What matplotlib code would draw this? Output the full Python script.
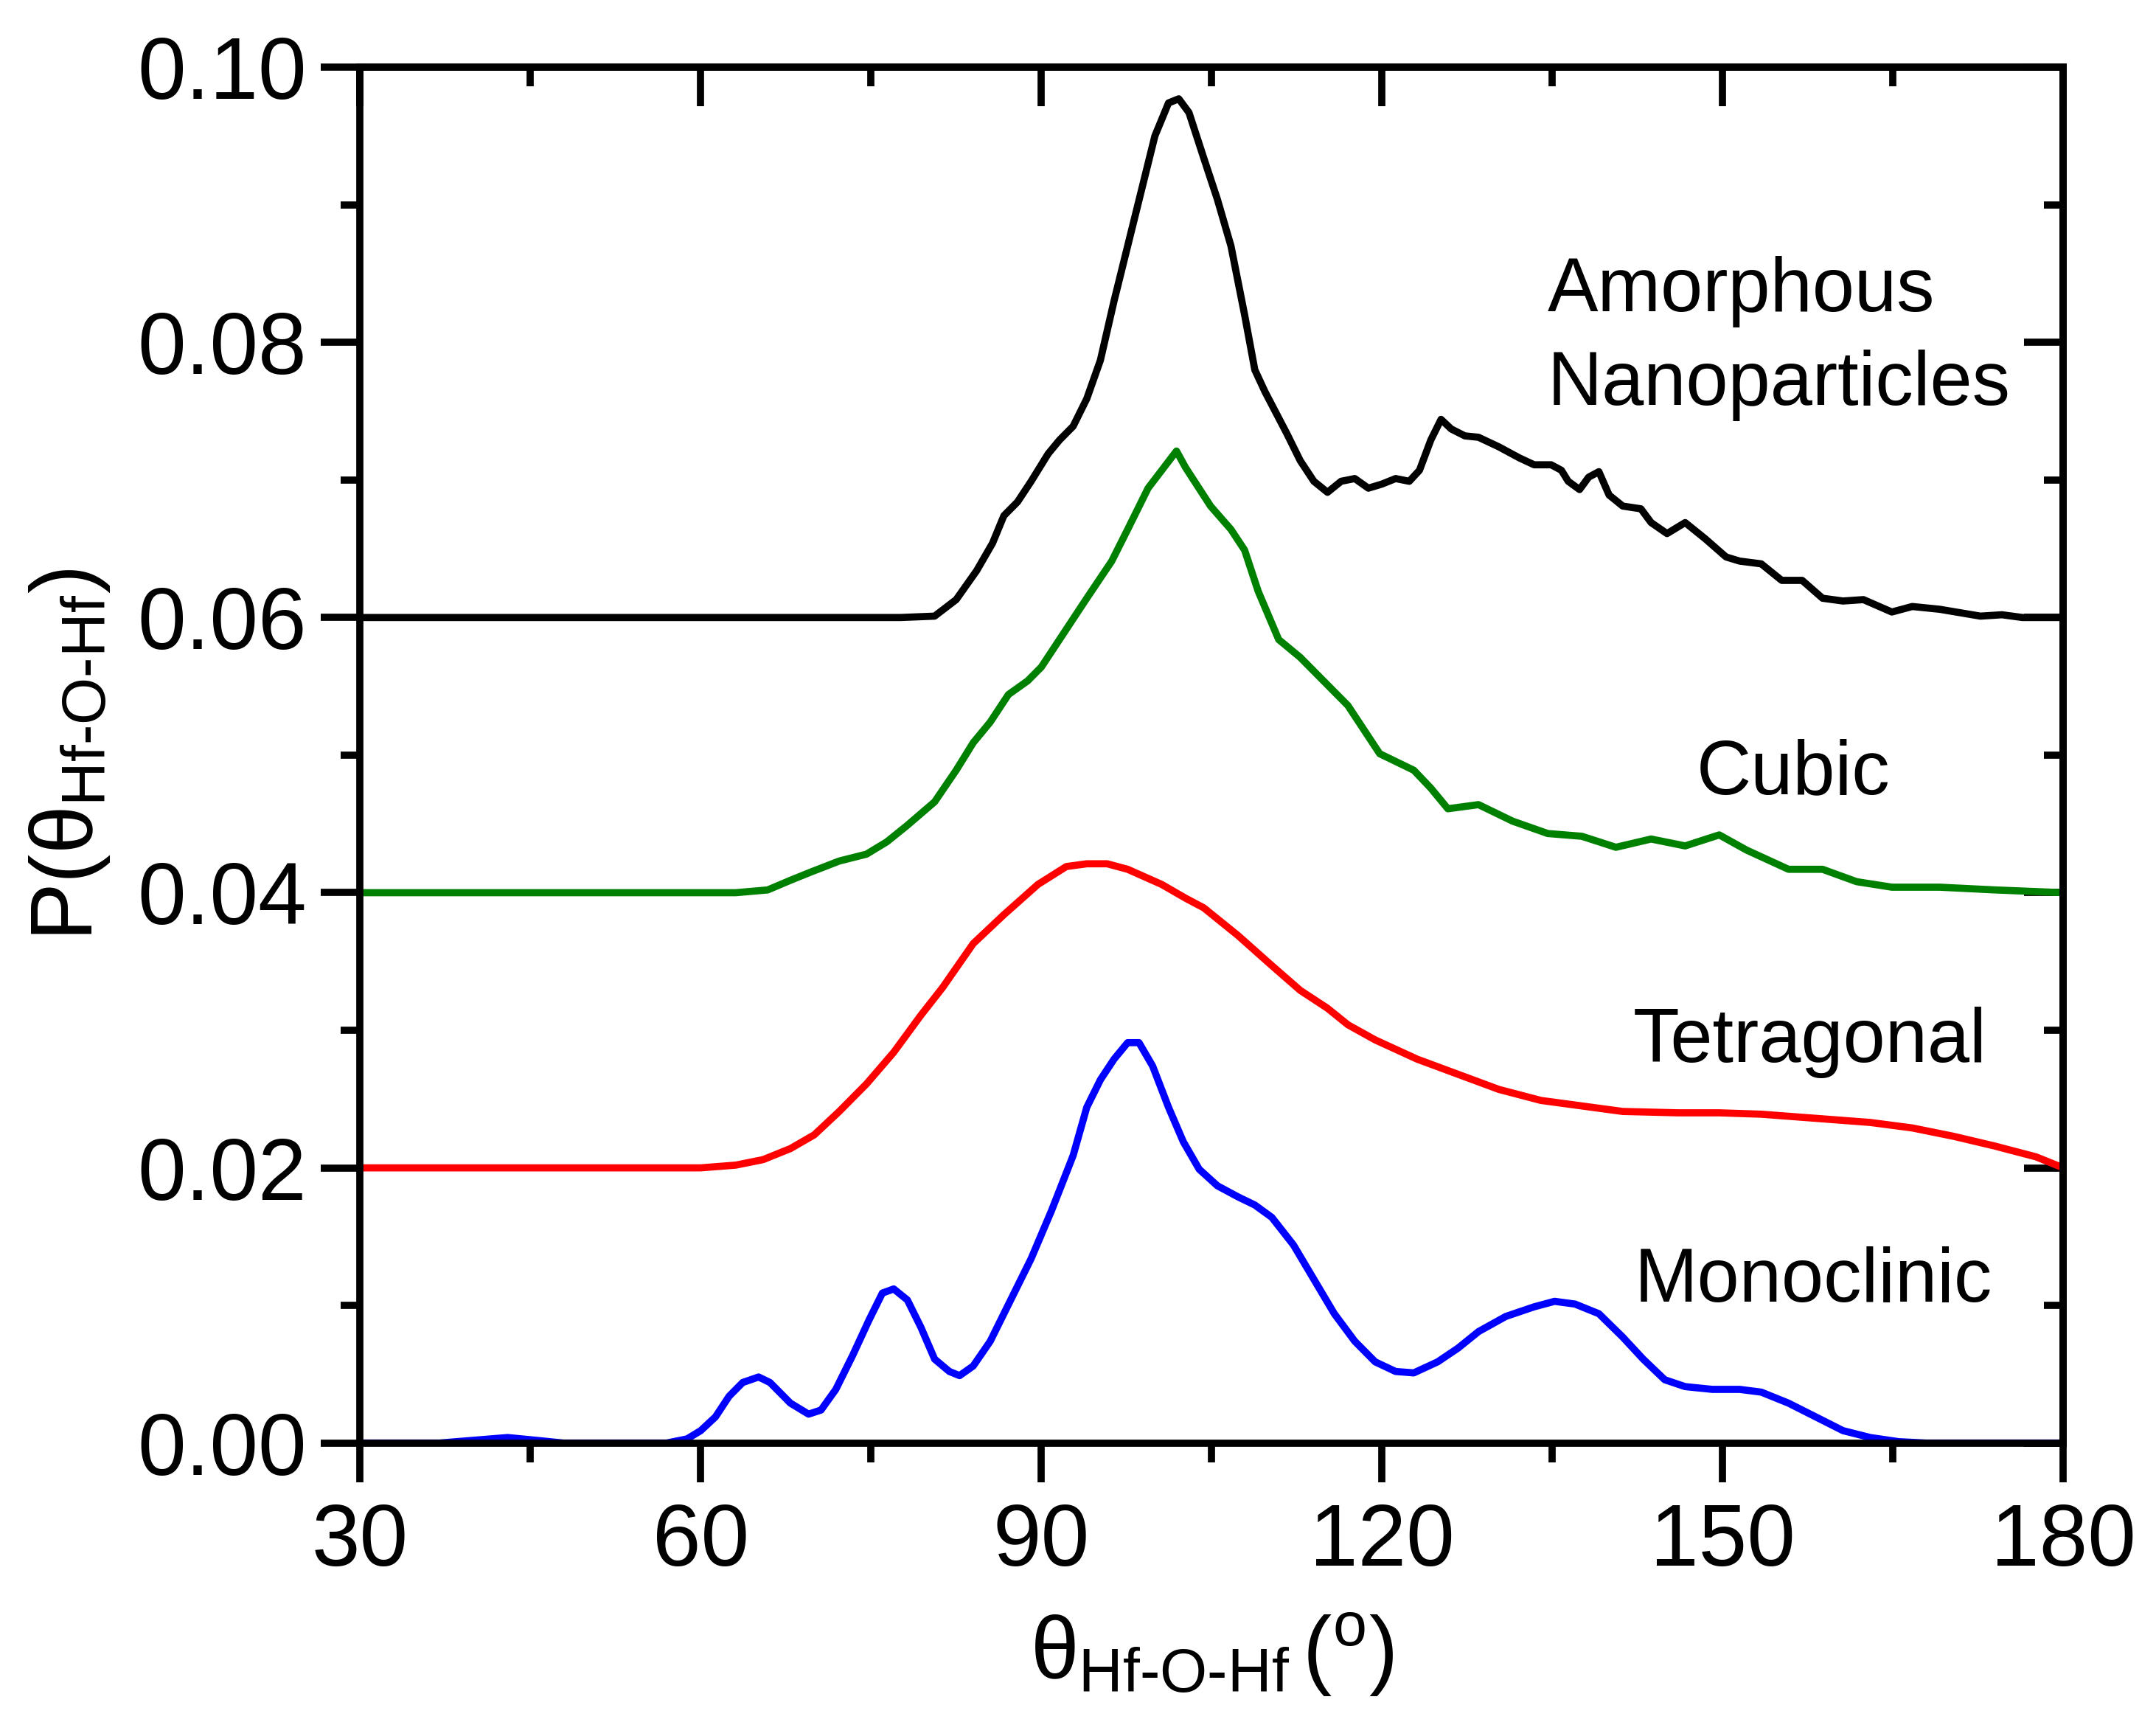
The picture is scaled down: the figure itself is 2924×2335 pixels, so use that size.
import matplotlib
matplotlib.use("Agg")
import matplotlib.pyplot as plt
from matplotlib.ticker import MultipleLocator, FormatStrFormatter

plt.rcParams['font.family'] = ['Liberation Sans', 'DejaVu Sans']
plt.rcParams['mathtext.fontset'] = 'custom'
plt.rcParams['mathtext.rm'] = 'Liberation Sans'
plt.rcParams['mathtext.it'] = 'Liberation Sans'

# Amorphous nanoparticles (offset +0.06)
amo_x = [30, 77.6, 80.6, 82.5, 84.3, 85.7, 86.7, 87.9, 89.1, 90.6, 91.6, 92.8, 94.0, 95.2, 96.4,
         97.6, 98.8, 100.0, 101.2, 102.1, 103.0, 104.3, 105.5, 106.7, 107.9, 108.8, 109.7, 111.6,
         112.8, 114.0, 115.2, 116.4, 117.6, 118.8, 120.0, 121.2, 122.4, 123.3, 124.3, 125.2, 126.1,
         127.3, 128.5, 130.3, 132.1, 133.4, 134.9, 135.8, 136.4, 137.4, 138.2, 139.1, 140.0, 141.2,
         142.8, 143.7, 145.1, 146.7, 148.5, 150.3, 151.5, 153.4, 155.2, 157.0, 158.8, 160.6, 162.4,
         164.9, 166.7, 169.1, 172.7, 174.6, 176.4, 180]
amo_y = [0.0600, 0.0600, 0.0601, 0.0613, 0.0634, 0.0654, 0.0674, 0.0684, 0.0699, 0.0719, 0.0729,
         0.0739, 0.0759, 0.0787, 0.0830, 0.0870, 0.0910, 0.0950, 0.0974, 0.0977, 0.0967, 0.0934,
         0.0904, 0.0870, 0.0820, 0.0780, 0.0764, 0.0734, 0.0714, 0.0699, 0.0691, 0.0699, 0.0701,
         0.0694, 0.0697, 0.0701, 0.0699, 0.0707, 0.0729, 0.0744, 0.0737, 0.0732, 0.0731, 0.0724,
         0.0716, 0.0711, 0.0711, 0.0707, 0.0699, 0.0693, 0.0702, 0.0706, 0.0689, 0.0681, 0.0679,
         0.0669, 0.0661, 0.0669, 0.0657, 0.0644, 0.0641, 0.0639, 0.0627, 0.0627, 0.0614, 0.0612,
         0.0613, 0.0604, 0.0608, 0.0606, 0.0601, 0.0602, 0.0600, 0.0600]

# Cubic (offset +0.04)
cub_x = [30, 63.1, 65.9, 67.9, 69.7, 72.2, 74.6, 76.4, 78.2, 80.6, 82.5, 84.0, 85.5, 87.1, 88.8,
         90.0, 91.6, 94.0, 96.2, 97.6, 99.4, 101.9, 102.7, 104.9, 106.7, 107.9, 109.1, 110.9,
         112.8, 114.6, 117.0, 119.8, 122.8, 124.3, 125.8, 128.5, 131.5, 134.6, 137.6, 140.6,
         143.7, 146.7, 149.7, 152.1, 155.8, 158.8, 161.8, 164.9, 169.1, 174.0, 180]
cub_y = [0.0400, 0.0400, 0.0402, 0.0409, 0.0415, 0.0423, 0.0428, 0.0437, 0.0449, 0.0466, 0.0489,
         0.0509, 0.0524, 0.0544, 0.0554, 0.0564, 0.0584, 0.0614, 0.0641, 0.0664, 0.0694, 0.0721,
         0.0709, 0.0681, 0.0664, 0.0649, 0.0619, 0.0584, 0.0571, 0.0556, 0.0536, 0.0501, 0.0489,
         0.0476, 0.0461, 0.0464, 0.0452, 0.0443, 0.0441, 0.0433, 0.0439, 0.0434, 0.0442, 0.0431,
         0.0417, 0.0417, 0.0408, 0.0404, 0.0404, 0.0402, 0.0400]

# Tetragonal (offset +0.02)
tet_x = [30, 60.0, 63.1, 65.5, 67.9, 70.0, 72.2, 74.6, 77.0, 79.4, 81.3, 84.0, 86.7, 89.7, 92.2,
         94.0, 95.8, 97.6, 100.6, 102.7, 104.3, 107.3, 110.3, 112.8, 115.2, 117.0, 119.4, 123.1,
         126.7, 130.3, 134.0, 137.6, 141.2, 146.1, 149.7, 153.4, 158.2, 163.0, 166.7, 170.3,
         173.9, 177.6, 180]
tet_y = [0.0200, 0.0200, 0.0202, 0.0206, 0.0214, 0.0224, 0.0241, 0.0261, 0.0284, 0.0311, 0.0331,
         0.0363, 0.0384, 0.0406, 0.0419, 0.0421, 0.0421, 0.0417, 0.0406, 0.0396, 0.0389, 0.0369,
         0.0347, 0.0329, 0.0316, 0.0304, 0.0293, 0.0279, 0.0268, 0.0257, 0.0249, 0.0245, 0.0241,
         0.0240, 0.0240, 0.0239, 0.0236, 0.0233, 0.0229, 0.0223, 0.0216, 0.0208, 0.0200]

# Monoclinic (no offset)
mon_x = [30, 37.0, 40.0, 43.0, 45.5, 47.9, 57.0, 58.8, 60.0, 61.3, 62.5, 63.7, 65.1, 66.1, 67.9,
         69.5, 70.6, 71.9, 73.4, 74.8, 76.0, 77.0, 78.2, 79.4, 80.6, 81.9, 82.8, 84.0, 85.5, 87.3,
         89.1, 90.9, 92.8, 94.0, 95.2, 96.4, 97.6, 98.6, 99.8, 101.2, 102.5, 103.9, 105.5, 107.3,
         108.8, 110.3, 112.2, 114.0, 115.8, 117.6, 119.4, 121.2, 122.8, 124.9, 126.7, 128.5,
         130.9, 133.4, 135.2, 137.0, 139.1, 141.2, 143.0, 144.9, 146.7, 149.1, 151.5, 153.4,
         155.8, 158.2, 160.6, 163.0, 165.5, 167.9, 180]
mon_y = [0.0000, 0.0000, 0.0002, 0.0004, 0.0002, 0.0000, 0.0000, 0.0003, 0.0009, 0.0019, 0.0034,
         0.0044, 0.0048, 0.0044, 0.0029, 0.0021, 0.0024, 0.0039, 0.0064, 0.0089, 0.0109, 0.0112,
         0.0104, 0.0084, 0.0061, 0.0052, 0.0049, 0.0056, 0.0074, 0.0104, 0.0134, 0.0169, 0.0209,
         0.0244, 0.0264, 0.0279, 0.0291, 0.0291, 0.0274, 0.0244, 0.0219, 0.0199, 0.0187, 0.0179,
         0.0173, 0.0164, 0.0144, 0.0119, 0.0094, 0.0074, 0.0059, 0.0052, 0.0051, 0.0059, 0.0069,
         0.0081, 0.0092, 0.0099, 0.0103, 0.0101, 0.0094, 0.0077, 0.0061, 0.0046, 0.0041, 0.0039,
         0.0039, 0.0037, 0.0029, 0.0019, 0.0009, 0.0004, 0.0001, 0.0000, 0.0000]

fig = plt.figure(figsize=(29.24, 23.35), dpi=100)
ax = fig.add_axes([0.167, 0.162, 0.79, 0.799])

# 曲線を描く
lw = 7
ax.plot(amo_x, amo_y, color='black', lw=lw)
ax.plot(cub_x, cub_y, color='#008000', lw=lw)
ax.plot(tet_x, tet_y, color='#ff0000', lw=lw)
ax.plot(mon_x, mon_y, color='#0000ff', lw=lw)

ax.set_xlim(30, 180)
ax.set_ylim(0, 0.10)
ax.xaxis.set_major_locator(MultipleLocator(30))
ax.xaxis.set_minor_locator(MultipleLocator(15))
ax.yaxis.set_major_locator(MultipleLocator(0.02))
ax.yaxis.set_minor_locator(MultipleLocator(0.01))
ax.yaxis.set_major_formatter(FormatStrFormatter('%.2f'))

sw = 7
for s in ax.spines.values():
    s.set_linewidth(sw)

ax.tick_params(which='both', direction='out', width=sw, labelsize=85)
ax.tick_params(axis='x', pad=20)
ax.tick_params(axis='y', pad=14)
ax.tick_params(which='major', length=38)
ax.tick_params(which='minor', length=19)

# 上と右の軸: 内向きの目盛りだけ
axt = ax.secondary_xaxis('top')
axt.xaxis.set_major_locator(MultipleLocator(30))
axt.xaxis.set_minor_locator(MultipleLocator(15))
axt.tick_params(which='both', direction='in', width=sw, labeltop=False)
axt.tick_params(which='major', length=38)
axt.tick_params(which='minor', length=19)
axr = ax.secondary_yaxis('right')
axr.yaxis.set_major_locator(MultipleLocator(0.02))
axr.yaxis.set_minor_locator(MultipleLocator(0.01))
axr.tick_params(which='both', direction='in', width=sw, labelright=False)
axr.tick_params(which='major', length=38)
axr.tick_params(which='minor', length=19)
for sp in list(axt.spines.values()) + list(axr.spines.values()):
    sp.set_linewidth(sw)

ax.set_xlabel(r'$\theta_{\mathrm{Hf\text{-}O\text{-}Hf}}\,(^{\mathrm{o}})$', fontsize=85, labelpad=26)
ax.set_ylabel(r'$\mathrm{P(}\theta_{\mathrm{Hf\text{-}O\text{-}Hf}}\mathrm{)}$', fontsize=85, labelpad=25)

ax.text(134.6, 0.0803, 'Amorphous\nNanoparticles', fontsize=74, ha='left', va='center',
        linespacing=1.4)
ax.text(147.7, 0.0486, 'Cubic', fontsize=74, ha='left', va='center')
ax.text(142.1, 0.0291, 'Tetragonal', fontsize=74, ha='left', va='center')
ax.text(142.2, 0.0117, 'Monoclinic', fontsize=74, ha='left', va='center')

plt.savefig('out.png', dpi=100)
